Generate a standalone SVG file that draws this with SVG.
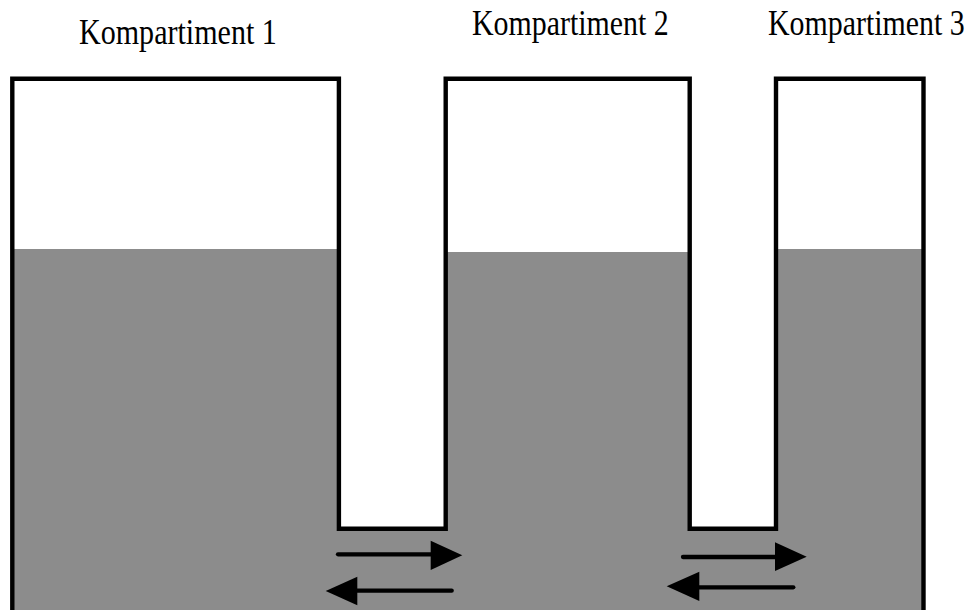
<svg xmlns="http://www.w3.org/2000/svg" width="973" height="610" viewBox="0 0 973 610">
<defs>
<style>
.lbl{font-family:"Liberation Serif","Times New Roman",serif;font-size:36px;fill:#000}
.wall{fill:none;stroke:#000;stroke-width:4.4;stroke-linejoin:miter}
.arr{fill:none;stroke:#000;stroke-width:4.3;stroke-linecap:round}
.head{fill:#000;stroke:none}
</style>
</defs>
<rect width="973" height="610" fill="#fff"/>
<g id="fluid">
<path d="M12,249 H338 V528 H446 V252 H690 V528 H776 V249 H923 V610 H12 Z" fill="#8c8c8c"/>
</g>
<g id="vessel">
<path class="wall" d="M12.3,612 V78.7 H338.9 V528.7 H445.7 V78.7 H689.7 V528.7 H776 V78.7 H923.5 V612"/>
</g>
<g id="kompartiment1"><text class="lbl" transform="translate(79,44) scale(0.835,1)">Kompartiment 1</text></g>
<g id="kompartiment2"><text class="lbl" transform="translate(472,35) scale(0.83,1)">Kompartiment 2</text></g>
<g id="kompartiment3"><text class="lbl" transform="translate(768,35) scale(0.83,1)">Kompartiment 3</text></g>
<g id="connectors">
<line class="arr" x1="338" y1="554.3" x2="432" y2="554.3"/>
<polygon class="head" points="430.7,540.7 462.3,555.3 430.7,570"/>
<line class="arr" x1="451.7" y1="590.7" x2="356" y2="590.7"/>
<polygon class="head" points="357.3,576.7 325.7,591 357.3,605.3"/>
<line class="arr" x1="683" y1="557" x2="776" y2="557"/>
<polygon class="head" points="775,542.3 806.7,556.7 775,571"/>
<line class="arr" x1="793.3" y1="587.3" x2="698" y2="587.3"/>
<polygon class="head" points="699.3,571.7 666.7,586.3 699.3,601"/>
</g>
</svg>
